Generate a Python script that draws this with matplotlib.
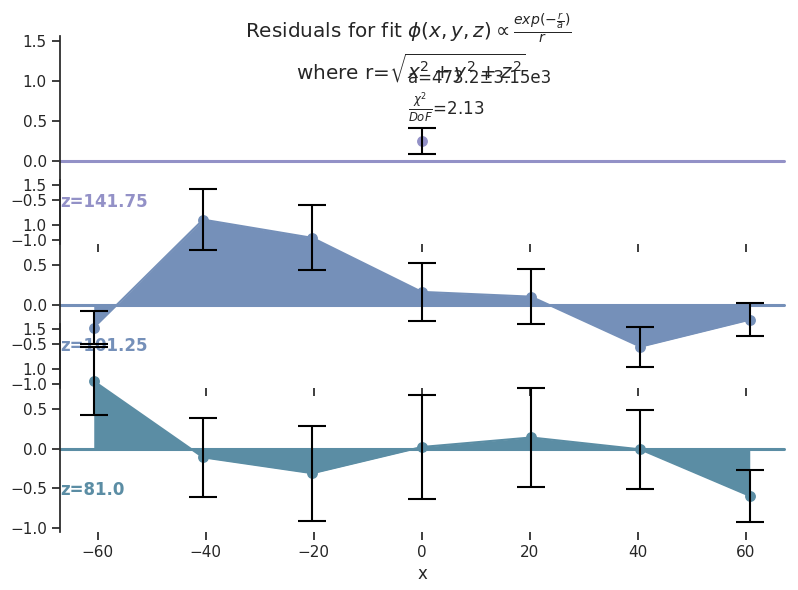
import numpy as np
import matplotlib
matplotlib.use("Agg")
import matplotlib.pyplot as plt
import seaborn as sns

# ---- data ----
z_labels = ["z=141.75", "z=101.25", "z=81.0"]
colors = ["#9391c7", "#7590b9", "#5b8da4"]

x_top = [0.0]
y_top = [0.25]
e_top = [0.165]

x_all = [-60.75, -40.5, -20.25, 0.0, 20.25, 40.5, 60.75]
y_mid = [-0.29, 1.07, 0.84, 0.16, 0.10, -0.53, -0.19]
e_mid = [0.21, 0.38, 0.41, 0.37, 0.35, 0.25, 0.21]
y_bot = [0.85, -0.11, -0.31, 0.02, 0.14, -0.01, -0.595]
e_bot = [0.43, 0.50, 0.60, 0.66, 0.62, 0.50, 0.33]

xs = [x_top, x_all, x_all]
ys = [y_top, y_mid, y_bot]
es = [e_top, e_mid, e_bot]

title1 = r"Residuals for fit $\phi(x,y,z)\propto\frac{exp(-\frac{r}{a})}{r}$"
title2 = r"where r=$\sqrt{x^2+y^2+z^2}$"
fit_a = "a=473.2±3.15e3"
fit_chi = r"$\frac{\chi^2}{DoF}$=2.13"

sns.set_theme(style="ticks", rc={"axes.facecolor": (0, 0, 0, 0)})
plt.rcParams['font.family'] = ['DejaVu Sans']

fig = plt.figure(figsize=(7.98, 5.90), dpi=100)
W, H = 798.0, 590.0
left = 60 / W
width = 724.3 / W
height = 207.5 / H
bottoms_px = [243.5, 387.5, 531.5]

axes = []
for i in range(3):
    b = 1 - bottoms_px[i] / H
    if i == 0:
        ax = fig.add_axes([left, b, width, height])
    else:
        ax = fig.add_axes([left, b, width, height], sharex=axes[0], sharey=axes[0])
    axes.append(ax)

for i, ax in enumerate(axes):
    c = colors[i]
    x = np.array(xs[i]); y = np.array(ys[i]); e = np.array(es[i])
    ax.fill_between(x, y, 0, color=c, lw=0, zorder=1)
    ax.plot(x, y, color=c, lw=1.5, zorder=1.5)
    ax.plot(x, y, 'o', color=c, ms=6.8, zorder=2)
    ax.errorbar(x, y, yerr=e, fmt='none', ecolor='black', elinewidth=1.5,
                capsize=10, capthick=1.5, zorder=3)
    ax.axhline(0, color=c, lw=2.2, clip_on=False)
    ax.text(0, 0.2, z_labels[i], fontweight='bold', color=c, fontsize=12,
            ha='left', va='center', transform=ax.transAxes, zorder=2.5)
    ax.spines['bottom'].set_visible(False)
    ax.spines['top'].set_visible(False)
    ax.spines['right'].set_visible(False)
    ax.set_xticks([-60, -40, -20, 0, 20, 40, 60])
    ax.set_yticks([-1.0, -0.5, 0.0, 0.5, 1.0, 1.5])
    if i < 2:
        ax.tick_params(axis='x', labelbottom=False)

axes[0].set_xlim(-67.0, 67.15)
axes[0].set_ylim(-1.044, 1.569)
axes[2].set_xlabel("x", fontsize=12)

fig.text(408 / W, 1 - 38 / H, title1, ha='center', va='baseline', fontsize=14.4)
fig.text(411 / W, 1 - 79 / H, title2, ha='center', va='baseline', fontsize=14.4)
fig.text(408 / W, 1 - 82.7 / H, fit_a, ha='left', va='baseline', fontsize=12)
fig.text(408 / W, 1 - 115 / H, fit_chi, ha='left', va='baseline', fontsize=12)

fig.savefig("out.png", dpi=100)
